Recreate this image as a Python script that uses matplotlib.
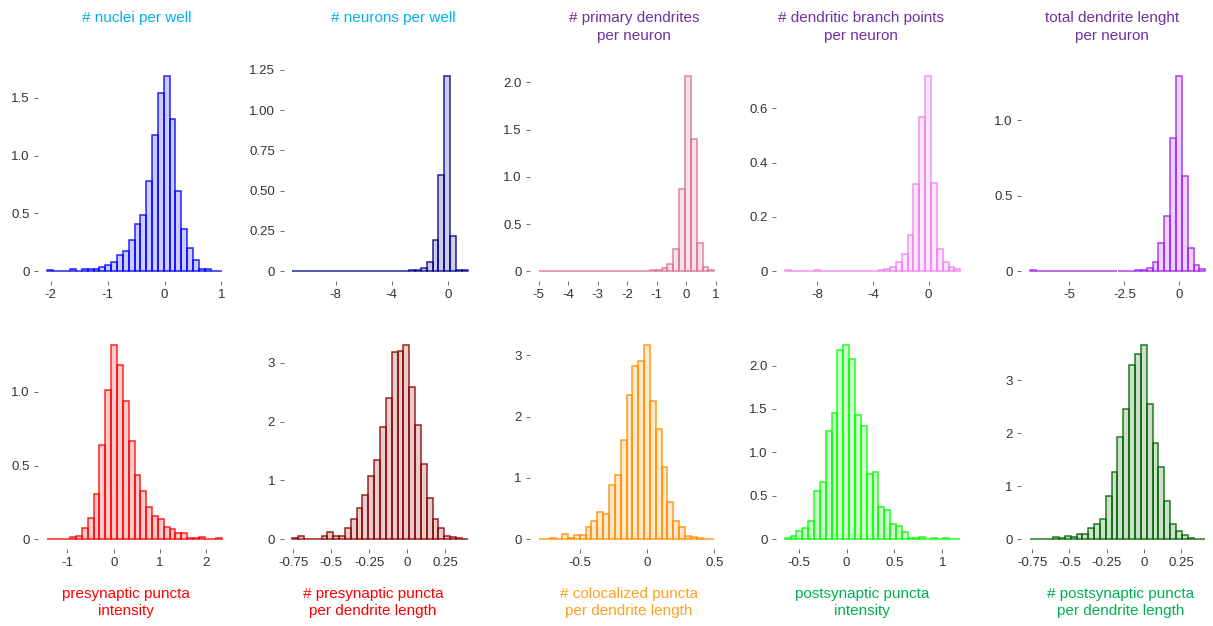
import matplotlib
matplotlib.use("Agg")
import matplotlib.pyplot as plt
import numpy as np

plt.rcParams['font.family'] = ['Liberation Sans', 'DejaVu Sans']

# histogram densities (30 bins each)
nuclei_range = (-2.07, 1.013)
nuclei = [0.014, 0.0, 0.005, 0.005, 0.015, 0.006, 0.015, 0.02, 0.015, 0.04,
          0.058, 0.078, 0.14, 0.176, 0.274, 0.41, 0.485, 0.78, 1.18, 1.54,
          1.69, 1.32, 0.69, 0.366, 0.2, 0.095, 0.02, 0.015, 0.006, 0.006]

neurons_range = (-11.1, 1.43)
neurons = [0.004, 0, 0.004, 0, 0, 0, 0, 0.004, 0, 0.004,
           0, 0.004, 0, 0.004, 0, 0.004, 0, 0.004, 0.004, 0.004,
           0.006, 0.01, 0.023, 0.056, 0.193, 0.60, 1.214, 0.218, 0.01, 0.005]

primary_range = (-5.0, 0.946)
primary = [0.006, 0, 0, 0, 0, 0, 0, 0, 0, 0,
           0.006, 0.006, 0.006, 0, 0.006, 0.006, 0.006, 0, 0.006, 0.008,
           0.018, 0.03, 0.08, 0.24, 0.87, 2.07, 1.405, 0.30, 0.04, 0.008]

branch_range = (-10.34, 2.28)
branch = [0.003, 0, 0, 0, 0, 0.003, 0, 0.002, 0.002, 0.002,
          0.002, 0.002, 0.002, 0.002, 0.002, 0.002, 0.006, 0.007, 0.014, 0.033,
          0.064, 0.134, 0.323, 0.568, 0.72, 0.326, 0.083, 0.033, 0.014, 0.007]

length_range = (-6.79, 1.17)
length = [0.007, 0, 0, 0, 0, 0, 0, 0, 0, 0.004,
          0.004, 0.004, 0.004, 0.004, 0, 0.004, 0.004, 0.004, 0.009, 0.011,
          0.024, 0.064, 0.184, 0.365, 0.885, 1.294, 0.628, 0.155, 0.038, 0.015]

pre_int_range = (-1.446, 2.343)
pre_int = [0, 0, 0, 0, 0.016, 0.023, 0.079, 0.145, 0.308, 0.643,
           1.016, 1.32, 1.18, 0.94, 0.667, 0.434, 0.326, 0.222, 0.156, 0.136,
           0.081, 0.072, 0.045, 0.045, 0.009, 0.009, 0.016, 0, 0, 0.009]

pre_len_range = (-0.757, 0.400)
pre_len = [0.017, 0.057, 0, 0, 0, 0.051, 0.13, 0.051, 0.051, 0.2,
           0.34, 0.533, 0.754, 1.083, 1.356, 1.9, 2.4, 3.18, 3.2, 3.307,
           2.59, 1.95, 1.28, 0.70, 0.34, 0.19, 0.057, 0.04, 0.017, 0]

coloc_range = (-0.805, 0.499)
coloc = [0, 0, 0.02, 0, 0.09, 0.015, 0.07, 0.07, 0.2, 0.29,
         0.45, 0.41, 0.89, 1.04, 1.625, 2.35, 2.83, 2.9, 3.17, 2.25,
         1.79, 1.18, 0.614, 0.304, 0.207, 0.054, 0.038, 0.016, 0, 0]

post_int_range = (-0.645, 1.186)
post_int = [0.01, 0.04, 0.10, 0.13, 0.21, 0.56, 0.66, 1.25, 1.455, 2.18,
            2.24, 2.08, 1.43, 1.305, 0.756, 0.78, 0.372, 0.334, 0.18, 0.153,
            0.084, 0.02, 0.02, 0.03, 0, 0.02, 0, 0.012, 0, 0]

post_len_range = (-0.766, 0.413)
post_len = [0, 0, 0, 0, 0.044, 0.02, 0.057, 0.038, 0.1, 0.1,
            0.214, 0.296, 0.39, 0.81, 1.26, 1.93, 2.46, 3.28, 3.49, 3.67,
            2.56, 1.81, 1.37, 0.73, 0.296, 0.158, 0.082, 0.02, 0, 0]

panels = [
    (nuclei_range, nuclei, "#0000FF", [-2, -1, 0, 1], ["-2", "-1", "0", "1"],
     [0, 0.5, 1.0, 1.5], ["0", "0.5", "1.0", "1.5"]),
    (neurons_range, neurons, "#00008B", [-8, -4, 0], ["-8", "-4", "0"],
     [0, 0.25, 0.5, 0.75, 1.0, 1.25], ["0", "0.25", "0.50", "0.75", "1.00", "1.25"]),
    (primary_range, primary, "#DB7093", [-5, -4, -3, -2, -1, 0, 1],
     ["-5", "-4", "-3", "-2", "-1", "0", "1"],
     [0, 0.5, 1.0, 1.5, 2.0], ["0", "0.5", "1.0", "1.5", "2.0"]),
    (branch_range, branch, "#EE82EE", [-8, -4, 0], ["-8", "-4", "0"],
     [0, 0.2, 0.4, 0.6], ["0", "0.2", "0.4", "0.6"]),
    (length_range, length, "#A020F0", [-5, -2.5, 0], ["-5", "-2.5", "0"],
     [0, 0.5, 1.0], ["0", "0.5", "1.0"]),
    (pre_int_range, pre_int, "#FF0000", [-1, 0, 1, 2], ["-1", "0", "1", "2"],
     [0, 0.5, 1.0], ["0", "0.5", "1.0"]),
    (pre_len_range, pre_len, "#8B0000", [-0.75, -0.5, -0.25, 0, 0.25],
     ["-0.75", "-0.5", "-0.25", "0", "0.25"], [0, 1, 2, 3], ["0", "1", "2", "3"]),
    (coloc_range, coloc, "#FF8C00", [-0.5, 0, 0.5], ["-0.5", "0", "0.5"],
     [0, 1, 2, 3], ["0", "1", "2", "3"]),
    (post_int_range, post_int, "#00FF00", [-0.5, 0, 0.5, 1], ["-0.5", "0", "0.5", "1"],
     [0, 0.5, 1.0, 1.5, 2.0], ["0", "0.5", "1.0", "1.5", "2.0"]),
    (post_len_range, post_len, "#006400", [-0.75, -0.5, -0.25, 0, 0.25],
     ["-0.75", "-0.5", "-0.25", "0", "0.25"], [0, 1, 2, 3], ["0", "1", "2", "3"]),
]

top_titles = ["# nuclei per well", "# neurons per well",
              "# primary dendrites\nper neuron",
              "# dendritic branch points\nper neuron",
              "total dendrite lenght\nper neuron"]
top_colors = ["#00B0F0", "#00B0F0", "#7030A0", "#7030A0", "#7030A0"]
top_x = [137, 393, 634, 861, 1112]

bottom_titles = ["presynaptic puncta\nintensity",
                 "# presynaptic puncta\nper dendrite length",
                 "# colocalized puncta\nper dendrite length",
                 "postsynaptic puncta\nintensity",
                 "# postsynaptic puncta\nper dendrite length"]
bottom_colors = ["#FF0000", "#FF0000", "#FFA020", "#00B050", "#00B050"]
bottom_x = [126, 373, 629, 862, 1121]

W, H = 1213, 626
fig = plt.figure(figsize=(W / 100, H / 100), dpi=100)

lefts = [38, 283.5, 530, 776, 1021]
pw = 193
rows = [(66, 281), (335, 549)]

for i, (rng, h, col, xt, xtl, yt, ytl) in enumerate(panels):
    r, c = divmod(i, 5)
    top, bot = rows[r]
    ax = fig.add_axes([lefts[c] / W, 1 - bot / H, pw / W, (bot - top) / H])
    edges = np.linspace(rng[0], rng[1], len(h) + 1)
    ax.bar(edges[:-1], h, width=np.diff(edges), align='edge',
           facecolor=matplotlib.colors.to_rgba(col, 0.2),
           edgecolor=matplotlib.colors.to_rgba(col, 0.85), linewidth=1.1)
    span = rng[1] - rng[0]
    ax.set_xlim(rng[0] - 0.05 * span, rng[1] + 0.05 * span)
    hm = max(h)
    ax.set_ylim(-0.05 * hm, 1.05 * hm)
    ax.set_xticks(xt)
    ax.set_xticklabels(xtl)
    ax.set_yticks(yt)
    ax.set_yticklabels(ytl)
    for s in ax.spines.values():
        s.set_visible(False)
    ax.tick_params(direction='out', length=3, width=0.6, color='#555555',
                   labelcolor='#333333', labelsize=9.5, pad=3)

for t, col, x in zip(top_titles, top_colors, top_x):
    fig.text(x / W, 1 - 11 / H, t, color=col, fontsize=11, ha='center', va='top',
             linespacing=1.35)

for t, col, x in zip(bottom_titles, bottom_colors, bottom_x):
    fig.text(x / W, 1 - 587 / H, t, color=col, fontsize=11, ha='center', va='top',
             linespacing=1.25)

fig.savefig("out.png", dpi=100)
